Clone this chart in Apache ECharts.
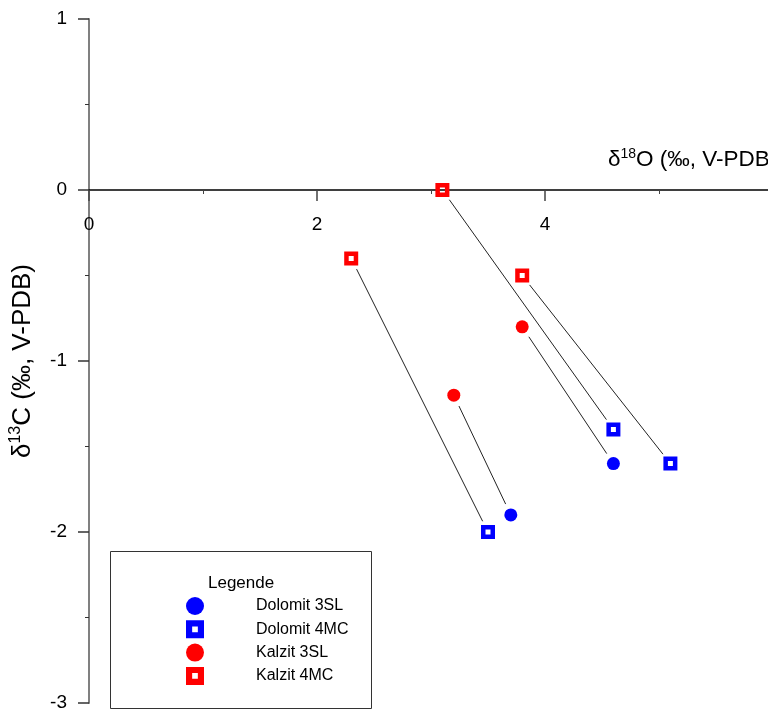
<!DOCTYPE html>
<html>
<head>
<meta charset="utf-8">
<script src="https://cdn.jsdelivr.net/npm/echarts@6/dist/echarts.min.js"></script>
<style>
  html, body { margin: 0; padding: 0; background: #fff; }
  #main { width: 768px; height: 713px; }
</style>
</head>
<body>
<div id="main"></div>
<script>
// Dolomit 3SL (blaue Kreise)
var dolomit3slX = [3.7, 4.6];
var dolomit3slY = [-1.9, -1.6];
// Dolomit 4MC (blaue Quadrate)
var dolomit4mcX = [3.5, 4.6, 5.1];
var dolomit4mcY = [-2.0, -1.4, -1.6];
// Kalzit 3SL (rote Kreise)
var kalzit3slX = [3.2, 3.8];
var kalzit3slY = [-1.2, -0.8];
// Kalzit 4MC (rote Quadrate)
var kalzit4mcX = [2.3, 3.1, 3.8];
var kalzit4mcY = [-0.4, 0, -0.5];
// Verbindungen Kalzit -> Dolomit (Index-Paare)
var pairs4mc = [[0, 0], [1, 1], [2, 2]];
var pairs3sl = [[0, 0], [1, 1]];

var xTicks = [0, 2, 4];
var yTicks = [-3, -2, -1, 0, 1];

var seriesNames = ["Dolomit 3SL", "Dolomit 4MC", "Kalzit 3SL", "Kalzit 4MC"];

function zip(xs, ys) {
  var out = [];
  for (var i = 0; i < xs.length; i++) out.push([xs[i], ys[i]]);
  return out;
}

// Verbindungslinien
var links = [];
pairs4mc.forEach(function (p) {
  links.push([kalzit4mcX[p[0]], kalzit4mcY[p[0]], dolomit4mcX[p[1]], dolomit4mcY[p[1]]]);
});
pairs3sl.forEach(function (p) {
  links.push([kalzit3slX[p[0]], kalzit3slY[p[0]], dolomit3slX[p[1]], dolomit3slY[p[1]]]);
});

var squareSym = "path://M0,0H14V14H0Z M4.5,4.5V9.5H9.5V4.5Z";
var squareIcon = "path://M0,0H19V19H0Z M6.5,6.5V12.5H12.5V6.5Z";
var FONT = "'Liberation Sans', Arial, sans-serif";

// Plotfläche
var gridH = 684;
var yMin = -3, yMax = 1;
// x-Achse liegt bei y = 0: Abstand vom unteren Rand
var xAxisOffset = -gridH * (0 - yMin) / (yMax - yMin);

var myChart = echarts.init(document.getElementById("main"));

var option = {
  animation: false,
  grid: { left: 89, top: 19, width: 684, height: gridH, containLabel: false, outerBoundsMode: "none" },
  xAxis: {
    type: "value",
    min: 0,
    max: 6,
    interval: 2,
    offset: xAxisOffset,
    axisLine: { onZero: false, lineStyle: { color: "#000", width: 1.5 } },
    axisTick: { length: 11, lineStyle: { color: "#444", width: 1.5 } },
    minorTick: { show: true, splitNumber: 2, length: 4, lineStyle: { color: "#444", width: 1 } },
    axisLabel: {
      margin: 25,
      fontSize: 19,
      fontFamily: FONT,
      color: "#000",
      showMaxLabel: false,
      formatter: function (v) { return xTicks.indexOf(v) >= 0 ? String(v) : ""; }
    },
    splitLine: { show: false }
  },
  yAxis: {
    type: "value",
    min: yMin,
    max: yMax,
    interval: 1,
    axisLine: { onZero: false, lineStyle: { color: "#808080", width: 2 } },
    axisTick: { length: 11, lineStyle: { color: "#333", width: 1.5 } },
    minorTick: { show: true, splitNumber: 2, length: 4, lineStyle: { color: "#333", width: 1 } },
    axisLabel: {
      margin: 22,
      fontSize: 19,
      fontFamily: FONT,
      color: "#000",
      formatter: function (v) { return yTicks.indexOf(v) >= 0 ? String(v) : ""; }
    },
    splitLine: { show: false },
    name: "{d|δ}{s|13}{d|C (‰, V-PDB)}",
    nameLocation: "middle",
    nameRotate: 90,
    nameGap: 52,
    nameMoveOverlap: false,
    nameTextStyle: {
      rich: {
        d: { fontSize: 26, fontFamily: FONT, color: "#000", lineHeight: 29 },
        s: { fontSize: 16, fontFamily: FONT, color: "#000", lineHeight: 17, verticalAlign: "top" }
      }
    }
  },
  legend: {
    orient: "vertical",
    left: 181,
    top: 592,
    itemWidth: 18,
    itemHeight: 18,
    itemGap: 5.3,
    textStyle: { fontSize: 16, fontFamily: FONT, color: "#000", padding: [0, 0, 0, 47] },
    data: [
      { name: "Dolomit 3SL", icon: "circle", itemStyle: { color: "#0000ff" } },
      { name: "Dolomit 4MC", icon: squareIcon, itemStyle: { color: "#0000ff" } },
      { name: "Kalzit 3SL", icon: "circle", itemStyle: { color: "#ff0000" } },
      { name: "Kalzit 4MC", icon: squareIcon, itemStyle: { color: "#ff0000" } }
    ]
  },
  graphic: [
    {
      type: "rect",
      left: 108,
      top: 549,
      shape: { width: 261, height: 157 },
      style: { fill: "none", stroke: "#333", lineWidth: 1 },
      z: 0
    },
    {
      type: "text",
      left: 208,
      top: 575,
      style: { text: "Legende", font: "17px " + FONT, fill: "#000" }
    },
    {
      type: "text",
      left: 608,
      top: 147,
      style: {
        text: "{d|δ}{s|18}{d|O (‰, V-PDB)}",
        rich: {
          d: { fontSize: 22.5, fontFamily: FONT, fill: "#000", lineHeight: 25 },
          s: { fontSize: 14, fontFamily: FONT, fill: "#000", lineHeight: 15, verticalAlign: "top" }
        }
      }
    }
  ],
  series: [
    {
      name: "Verbindung",
      type: "custom",
      data: links,
      encode: { x: [0, 2], y: [1, 3] },
      clip: false,
      silent: true,
      z: 1,
      renderItem: function (params, api) {
        var a = api.coord([api.value(0), api.value(1)]);
        var b = api.coord([api.value(2), api.value(3)]);
        var dx = b[0] - a[0], dy = b[1] - a[1];
        var len = Math.sqrt(dx * dx + dy * dy);
        var gap = 12;
        var ux = dx / len, uy = dy / len;
        return {
          type: "line",
          shape: {
            x1: a[0] + ux * gap, y1: a[1] + uy * gap,
            x2: b[0] - ux * gap, y2: b[1] - uy * gap
          },
          style: { stroke: "#222", lineWidth: 1 }
        };
      }
    },
    {
      name: seriesNames[0],
      type: "scatter",
      data: zip(dolomit3slX, dolomit3slY),
      symbol: "circle",
      symbolSize: 13,
      itemStyle: { color: "#0000ff", opacity: 1 },
      z: 3
    },
    {
      name: seriesNames[1],
      type: "scatter",
      data: zip(dolomit4mcX, dolomit4mcY),
      symbol: squareSym,
      symbolSize: 14,
      itemStyle: { color: "#0000ff", opacity: 1 },
      z: 3
    },
    {
      name: seriesNames[2],
      type: "scatter",
      data: zip(kalzit3slX, kalzit3slY),
      symbol: "circle",
      symbolSize: 13,
      itemStyle: { color: "#ff0000", opacity: 1 },
      z: 3
    },
    {
      name: seriesNames[3],
      type: "scatter",
      data: zip(kalzit4mcX, kalzit4mcY),
      symbol: squareSym,
      symbolSize: 14,
      itemStyle: { color: "#ff0000", opacity: 1 },
      z: 3
    }
  ]
};

myChart.setOption(option, true);
</script>
</body>
</html>
